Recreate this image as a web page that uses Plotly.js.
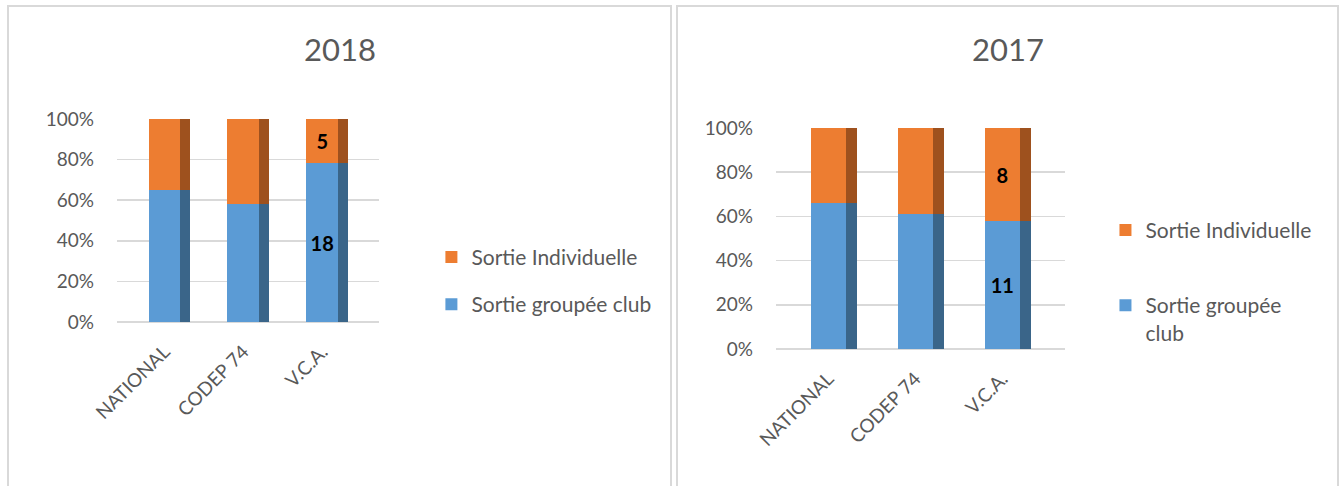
<!DOCTYPE html>
<html>
<head>
<meta charset="utf-8">
<script src="https://cdn.plot.ly/plotly-3.0.1.min.js"></script>
<style>
  html, body { margin:0; padding:0; background:#fff; width:1340px; height:486px; overflow:hidden; }
  .chart { position:absolute; top:0; height:486px; }
  .frame { position:absolute; top:5px; height:500px; border:2px solid #d9d9d9; border-bottom:none; box-sizing:border-box; pointer-events:none; }
</style>
</head>
<body>
<div class="frame" style="left:7px; width:665px;"></div>
<div class="frame" style="left:676px; width:663px;"></div>
<div id="c2018" class="chart" style="left:0px; width:672px;"></div>
<div id="c2017" class="chart" style="left:672px; width:668px;"></div>
<script>
// ---- data ----
const categories = ['NATIONAL', 'CODEP 74', 'V.C.A.'];
const groupee2018 = [65, 58, 18];
const indiv2018   = [35, 42, 5];
const groupee2017 = [66, 61, 11];
const indiv2017   = [34, 39, 8];
const labelled = [false, false, true];   // only V.C.A. shows counts
const yTicks = [0, 20, 40, 60, 80, 100];

const BLUE = '#5B9BD5', ORANGE = '#ED7D31';
const BLUE_SIDE = '#3A6589', ORANGE_SIDE = '#9E511E';
const FONT = 'Lato, "Open Sans", sans-serif';

function txt(vals) { return vals.map((v, i) => labelled[i] ? String(v) : ''); }

function build(div, title, groupee, indiv, m, legendPos, legendNames) {
  const front = (y, name, color, grp, rank) => ({
    type: 'bar', x: categories, y: y, name: name, legendgroup: grp, legendrank: rank,
    marker: { color: color, line: { width: 0 } },
    width: 0.4, text: txt(y), textposition: 'inside', insidetextanchor: 'middle',
    textangle: 0, constraintext: 'none',
    textfont: { family: FONT, size: 20, color: '#000', weight: 'bold' },
    hoverinfo: 'skip', xaxis: 'x', yaxis: 'y'
  });
  const side = (y, color) => ({
    type: 'bar', x: categories, y: y, showlegend: false,
    marker: { color: color, line: { width: 0 } },
    width: 0.13, offset: 0.2, hoverinfo: 'skip', xaxis: 'x2', yaxis: 'y2'
  });
  const data = [
    side(groupee, BLUE_SIDE), side(indiv, ORANGE_SIDE),
    front(groupee, legendNames[0], BLUE, 'g', 2),
    front(indiv, legendNames[1], ORANGE, 'i', 1)
  ];
  const layout = {
    width: m.w, height: 486,
    margin: { l: m.l, r: m.r, t: m.t, b: m.b, pad: 0 },
    paper_bgcolor: 'rgba(0,0,0,0)', plot_bgcolor: 'rgba(0,0,0,0)',
    font: { family: FONT, color: '#595959', size: 19 },
    barmode: 'stack', barnorm: 'percent',
    title: { text: title, font: { family: FONT, size: 31, color: '#595959' },
             x: m.tx, xref: 'container', xanchor: 'center',
             y: 1 - 50 / 486, yref: 'container', yanchor: 'middle' },
    xaxis: { type: 'category', range: [-0.6, 2.72], tickangle: -45,
             showline: false, ticks: '', showgrid: false, zeroline: false,
             ticklabelstandoff: 14,
             tickfont: { family: FONT, size: 19, color: '#595959' } },
    xaxis2: { overlaying: 'x', matches: 'x', visible: false },
    yaxis: { range: [0, 100], tickvals: yTicks, ticktext: yTicks.map(v => v + '%'),
             showline: false, ticks: '', gridcolor: '#d9d9d9', gridwidth: 1.5,
             zeroline: true, zerolinecolor: '#d9d9d9', zerolinewidth: 1.5,
             tickfont: { family: FONT, size: 19, color: '#595959' }, ticklabelstandoff: 22 },
    yaxis2: { overlaying: 'y', matches: 'y', visible: false },
    showlegend: true,
    legend: { x: legendPos.x, y: legendPos.y, xanchor: 'left', yanchor: 'top',
              traceorder: 'grouped', tracegroupgap: legendPos.gap, valign: 'top',
              font: { family: FONT, size: 21, color: '#595959' },
              itemwidth: 30, bgcolor: 'rgba(0,0,0,0)' }
  };
  Plotly.newPlot(div, data, layout, { staticPlot: true, displayModeBar: false });
}

build('c2018', '2018', groupee2018, indiv2018,
      { w: 672, l: 117, r: 293, t: 119, b: 164, tx: 340 / 672 },
      { x: 1.2, y: 0.42, gap: 17 }, ['Sortie groupée club', 'Sortie Individuelle']);
build('c2017', '2017', groupee2017, indiv2017,
      { w: 668, l: 104, r: 275, t: 128, b: 137, tx: 336 / 668 },
      { x: 1.14, y: 0.63, gap: 45 }, ['Sortie groupée<br>club', 'Sortie Individuelle']);
</script>
</body>
</html>
